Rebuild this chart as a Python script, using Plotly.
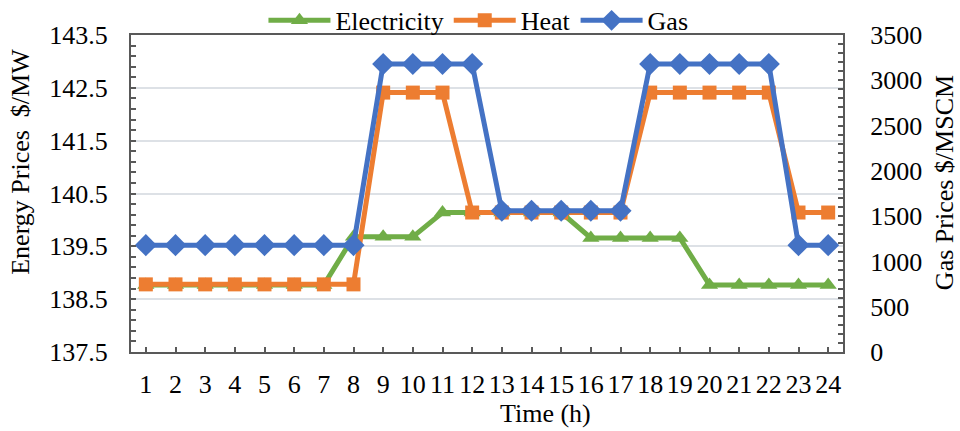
import plotly.graph_objects as go

hours = list(range(1, 25))

# Energy prices ($/MW) on the left axis
electricity = [138.77] * 7 + [139.68] * 3 + [140.14] * 5 + [139.66] * 4 + [138.77] * 5
heat = [138.78] * 8 + [142.41] * 3 + [140.14] * 6 + [142.41] * 5 + [140.14] * 2

# Gas price ($/MSCM) on the right axis
gas = [1180] * 8 + [3180] * 4 + [1560] * 5 + [3180] * 5 + [1180] * 2

left_ticks = [137.5, 138.5, 139.5, 140.5, 141.5, 142.5, 143.5]
right_ticks = [0, 500, 1000, 1500, 2000, 2500, 3000, 3500]

GREEN = "#70AD47"
ORANGE = "#ED7D31"
BLUE = "#4472C4"
AXIS = "#595959"
FONT = "Liberation Serif"
TICK_SIZE = 26
TITLE_SIZE = 26

fig = go.Figure()
fig.add_trace(go.Scatter(
    x=hours, y=electricity, name="Electricity", mode="lines+markers",
    line=dict(color=GREEN, width=5),
    marker=dict(symbol="triangle-up", size=15, color=GREEN),
    yaxis="y",
))
fig.add_trace(go.Scatter(
    x=hours, y=heat, name="Heat", mode="lines+markers",
    line=dict(color=ORANGE, width=5),
    marker=dict(symbol="square", size=14, color=ORANGE),
    yaxis="y",
))
fig.add_trace(go.Scatter(
    x=hours, y=gas, name="Gas", mode="lines+markers",
    line=dict(color=BLUE, width=5),
    marker=dict(symbol="diamond", size=17, color=BLUE),
    yaxis="y2",
))

# Axis titles placed as annotations (paper coordinates of the plot area)
titles = [
    dict(text="Energy Prices  $/MW", x=-0.1545, y=0.60, textangle=-90),
    dict(text="Gas Prices $/MSCM", x=1.142, y=0.533, textangle=-90),
    dict(text="Time (h)", x=0.5815, y=-0.195, textangle=0),
]
annotations = [
    dict(text=t["text"], x=t["x"], y=t["y"], xref="paper", yref="paper",
         xanchor="center", yanchor="middle", textangle=t["textangle"],
         showarrow=False, font=dict(family=FONT, size=TITLE_SIZE, color="black"))
    for t in titles
]

fig.update_layout(
    width=960, height=431,
    margin=dict(l=131, r=117, t=35, b=79, autoexpand=False),
    paper_bgcolor="white", plot_bgcolor="white",
    font=dict(family=FONT, size=TICK_SIZE, color="black"),
    showlegend=True,
    legend=dict(
        orientation="h", x=0.488, xanchor="center", y=1.046, yanchor="middle",
        font=dict(family=FONT, size=26), bgcolor="rgba(0,0,0,0)",
        itemwidth=62, tracegroupgap=0,
    ),
    annotations=annotations,
    xaxis=dict(
        range=[0.5, 24.5], tickvals=hours, ticktext=[str(h) for h in hours],
        ticks="inside", ticklen=5, tickcolor=AXIS, tickwidth=1.5,
        ticklabelstandoff=8,
        showline=True, linecolor=AXIS, linewidth=2, mirror=True,
        showgrid=False, zeroline=False,
        tickfont=dict(size=TICK_SIZE),
    ),
    yaxis=dict(
        range=[137.5, 143.5], tickvals=left_ticks,
        ticktext=[f"{v:.1f}" for v in left_ticks],
        ticks="inside", ticklen=5, tickcolor=AXIS, tickwidth=1.5,
        ticklabelstandoff=16,
        minor=dict(dtick=0.2, tick0=137.5, ticks="inside", ticklen=5,
                   tickcolor=AXIS, tickwidth=1.5, showgrid=False),
        showline=True, linecolor=AXIS, linewidth=2,
        showgrid=True, gridcolor="#DDE1E6", gridwidth=1.5,
        zeroline=False, tickfont=dict(size=TICK_SIZE),
    ),
    yaxis2=dict(
        overlaying="y", side="right",
        range=[0, 3500], tickvals=right_ticks,
        ticks="inside", ticklen=5, tickcolor=AXIS, tickwidth=1.5,
        ticklabelstandoff=20,
        minor=dict(dtick=100, tick0=0, ticks="inside", ticklen=5,
                   tickcolor=AXIS, tickwidth=1.5, showgrid=False),
        showline=True, linecolor=AXIS, linewidth=2,
        showgrid=False, zeroline=False, tickfont=dict(size=TICK_SIZE),
    ),
)

fig.write_html("out.html")
